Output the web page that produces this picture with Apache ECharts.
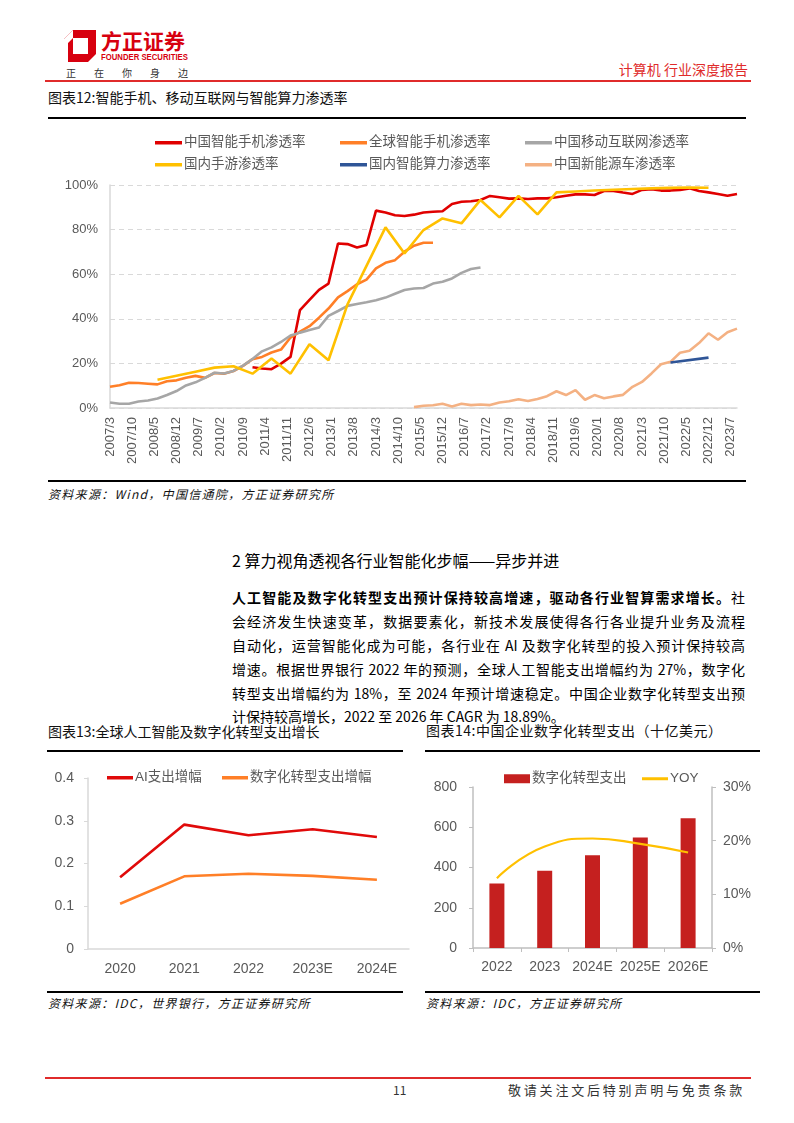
<!DOCTYPE html>
<html><head><meta charset="utf-8">
<script src="https://cdn.jsdelivr.net/npm/echarts/dist/echarts.min.js"></script>
<style>
body{margin:0;background:#fff;}
#page{position:relative;width:794px;height:1123px;overflow:hidden;font-family:"Noto Sans CJK SC","Noto Sans",sans-serif;color:#000;background:#fff;}
.a{position:absolute;white-space:nowrap;}
.title{font-size:14px;line-height:20px;color:#111;}
.src{font-size:12px;line-height:16px;font-style:italic;letter-spacing:1.3px;color:#111;}
.pl{position:absolute;left:232px;width:513px;font-size:14px;line-height:20px;text-align:justify;text-align-last:justify;white-space:nowrap;color:#000;}
</style></head>
<body><div id="page">
<!-- header -->
<svg class="a" style="left:64px;top:30px" width="32" height="32" viewBox="0 0 32 32">
  <path d="M9,0 L32,0 L32,24 L24,32 L0,32 L0,9 Z M9,8 L9,24 L24,24 L24,8 Z" fill="#D7000F" fill-rule="evenodd"/>
  <path d="M0,9 L9,0 L9,8 L4,13 L4,32 L0,32 Z" fill="#fff"/>
</svg>
<div class="a" style="left:101px;top:27px;font-size:21px;line-height:26px;font-weight:bold;color:#D7000F;">方正证券</div>
<div class="a" style="left:101px;top:52px;font-size:9px;line-height:10px;font-weight:bold;color:#D7000F;font-family:'Liberation Sans',Arial,sans-serif;transform:scaleX(0.86);transform-origin:left top;">FOUNDER SECURITIES</div>
<div class="a" style="left:66px;top:66px;font-size:10px;line-height:14px;color:#333;letter-spacing:18px;">正在你身边</div>
<div class="a" style="right:46px;top:59px;font-size:14px;line-height:20px;color:#E02B2B;">计算机 行业深度报告</div>
<div class="a" style="left:45px;top:80px;width:706px;height:1.5px;background:#E02B2B;"></div>
<div class="a title" style="left:48px;top:87px;">图表12:智能手机、移动互联网与智能算力渗透率</div>
<div class="a" style="left:48px;top:117px;width:698px;height:2px;background:#000;"></div>
<div id="c12" class="a" style="left:0;top:125px;width:794px;height:355px;"></div>
<div class="a" style="left:48px;top:480px;width:698px;height:2px;background:#000;"></div>
<div class="a src" style="left:48px;top:486px;">资料来源：Wind，中国信通院，方正证券研究所</div>

<!-- text -->
<div class="a" style="left:232px;top:549px;font-size:16px;line-height:22px;">2 算力视角透视各行业智能化步幅——异步并进</div>
<div class="pl" style="top:587px;"><b>人工智能及数字化转型支出预计保持较高增速，驱动各行业智算需求增长。</b>社</div>
<div class="pl" style="top:611px;">会经济发生快速变革，数据要素化，新技术发展使得各行各业提升业务及流程</div>
<div class="pl" style="top:635px;">自动化，运营智能化成为可能，各行业在 AI 及数字化转型的投入预计保持较高</div>
<div class="pl" style="top:659px;">增速。根据世界银行 2022 年的预测，全球人工智能支出增幅约为 27%，数字化</div>
<div class="pl" style="top:683px;">转型支出增幅约为 18%，至 2024 年预计增速稳定。中国企业数字化转型支出预</div>
<div class="pl" style="top:706px;text-align-last:left;width:auto;">计保持较高增长，2022 至 2026 年 CAGR 为 18.89%。</div>

<!-- chart 13 -->
<div class="a title" style="left:48px;top:721px;">图表13:全球人工智能及数字化转型支出增长</div>
<div class="a" style="left:47px;top:750px;width:356px;height:2px;background:#000;"></div>
<div id="c13" class="a" style="left:40px;top:755px;width:370px;height:230px;"></div>
<div class="a" style="left:47px;top:991px;width:356px;height:2px;background:#000;"></div>
<div class="a src" style="left:48px;top:995px;">资料来源：IDC，世界银行，方正证券研究所</div>

<!-- chart 14 -->
<div class="a title" style="left:426px;top:720px;letter-spacing:0.5px;">图表14:中国企业数字化转型支出（十亿美元）</div>
<div class="a" style="left:425px;top:750px;width:335px;height:2px;background:#000;"></div>
<div id="c14" class="a" style="left:410px;top:755px;width:360px;height:230px;"></div>
<div class="a" style="left:425px;top:991px;width:335px;height:2px;background:#000;"></div>
<div class="a src" style="left:426px;top:995px;">资料来源：IDC，方正证券研究所</div>

<!-- footer -->
<div class="a" style="left:45px;top:1077px;width:706px;height:1.5px;background:#E02B2B;"></div>
<div class="a" style="left:393px;top:1081px;font-size:12px;line-height:18px;color:#333;">11</div>
<div class="a" style="left:508px;top:1081px;font-size:13px;line-height:18px;color:#333;letter-spacing:2.8px;">敬请关注文后特别声明与免责条款</div>
</div>
<script>
// ---------- Chart 12 data ----------
const months = [];
(function(){ let y = 2007, m = 3; while (true) { months.push(y + '/' + m); if (y === 2023 && m === 9) break; m++; if (m > 12) { m = 1; y++; } } })();

const cnSmartphone = [['2010/12',18.3],['2011/3',17.7],['2011/6',17.4],['2011/9',19.9],['2011/12',22.9],['2012/3',43.9],['2012/6',48.5],['2012/9',53.0],['2012/12',55.8],['2013/3',73.8],['2013/6',73.5],['2013/9',72.0],['2013/12',73.1],['2014/3',88.5],['2014/6',87.7],['2014/9',86.4],['2014/12',86.1],['2015/3',86.7],['2015/6',87.7],['2015/9',88.0],['2015/12',88.2],['2016/3',91.5],['2016/6',92.5],['2016/9',92.7],['2016/12',93.3],['2017/3',95.1],['2017/6',94.5],['2017/9',93.9],['2017/12',94.0],['2018/3',93.7],['2018/6',94.0],['2018/9',94.0],['2018/12',94.5],['2019/3',95.2],['2019/6',95.8],['2019/9',95.8],['2019/12',95.5],['2020/3',97.3],['2020/6',97.3],['2020/9',96.6],['2020/12',96.0],['2021/3',97.8],['2021/6',98.1],['2021/9',97.5],['2021/12',97.5],['2022/3',97.8],['2022/6',98.5],['2022/9',97.3],['2022/12',96.7],['2023/3',96.0],['2023/6',95.2],['2023/9',96.0]];
const globalSmartphone = [['2007/3',9.5],['2007/6',10.2],['2007/9',11.3],['2007/12',11.2],['2008/3',10.9],['2008/6',10.6],['2008/9',12.0],['2008/12',12.4],['2009/3',13.6],['2009/6',14.4],['2009/9',13.5],['2009/12',15.7],['2010/3',15.4],['2010/6',16.6],['2010/9',18.9],['2010/12',21.9],['2011/3',22.9],['2011/6',24.9],['2011/9',26.2],['2011/12',31.6],['2012/3',34.2],['2012/6',36.7],['2012/9',40.5],['2012/12',44.6],['2013/3',49.6],['2013/6',52.4],['2013/9',55.5],['2013/12',57.6],['2014/3',62.6],['2014/6',65.1],['2014/9',66.3],['2014/12',70.1],['2015/3',72.8],['2015/6',74.1],['2015/9',74.1]];
const cnMobileNet = [['2007/3',2.5],['2007/6',1.9],['2007/9',1.9],['2007/12',2.9],['2008/3',3.4],['2008/6',4.3],['2008/9',5.8],['2008/12',7.6],['2009/3',10.1],['2009/6',11.5],['2009/9',13.5],['2009/12',15.8],['2010/3',15.5],['2010/6',16.6],['2010/9',19.0],['2010/12',22.0],['2011/3',25.4],['2011/6',27.2],['2011/9',29.6],['2011/12',32.5],['2012/3',33.8],['2012/6',35.0],['2012/9',36.1],['2012/12',41.3],['2013/3',43.5],['2013/6',45.8],['2013/9',46.6],['2013/12',47.4],['2014/3',48.3],['2014/6',49.5],['2014/9',51.2],['2014/12',52.9],['2015/3',53.6],['2015/6',53.8],['2015/9',55.8],['2015/12',56.6],['2016/3',58.1],['2016/6',60.6],['2016/9',62.3],['2016/12',63.0]];
const cnMobileGame = [['2008/6',12.7],['2008/12',14.5],['2009/6',16.3],['2009/12',18.1],['2010/6',18.7],['2010/12',15.4],['2011/6',22.2],['2011/12',15.4],['2012/6',28.6],['2012/12',21.4],['2013/6',46.5],['2013/12',63.7],['2014/6',81.0],['2014/12',69.3],['2015/6',79.8],['2015/12',85.0],['2016/6',82.8],['2016/12',93.3],['2017/6',85.5],['2017/12',95.1],['2018/6',86.8],['2018/12',96.7],['2019/6',97.1],['2019/12',97.5],['2020/6',97.9],['2020/12',98.2],['2021/6',98.5],['2021/12',98.7],['2022/6',98.9],['2022/12',98.8]];
const cnAICompute = [['2021/12',20.4],['2022/12',22.6]];
const cnNEV = [['2015/3',0.4],['2015/6',1.0],['2015/9',1.2],['2015/12',1.9],['2016/3',0.7],['2016/6',1.9],['2016/9',1.3],['2016/12',1.6],['2017/3',1.3],['2017/6',2.5],['2017/9',3.0],['2017/12',3.9],['2018/3',3.1],['2018/6',4.0],['2018/9',5.3],['2018/12',7.5],['2019/3',5.8],['2019/6',8.0],['2019/9',3.7],['2019/12',5.8],['2020/3',4.4],['2020/6',5.2],['2020/9',5.9],['2020/12',9.5],['2021/3',11.7],['2021/6',15.5],['2021/9',19.6],['2021/12',20.7],['2022/3',24.8],['2022/6',25.7],['2022/9',29.1],['2022/12',33.5],['2023/3',30.6],['2023/6',34.0],['2023/9',35.6]];
const yTicks12 = [0, 20, 40, 60, 80, 100];

const names12 = ['中国智能手机渗透率','全球智能手机渗透率','中国移动互联网渗透率','国内手游渗透率','国内智能算力渗透率','中国新能源车渗透率'];
const colors12 = ['#E00000','#FF7F27','#A6A6A6','#FFC000','#2F5597','#F4B183'];
const data12 = [cnSmartphone, globalSmartphone, cnMobileNet, cnMobileGame, cnAICompute, cnNEV];

// ---------- Chart 13 data ----------
const years13 = ['2020','2021','2022','2023E','2024E'];
const aiSpendGrowth = [0.168, 0.291, 0.266, 0.280, 0.262];
const dxSpendGrowth = [0.106, 0.170, 0.176, 0.171, 0.162];

// ---------- Chart 14 data ----------
const years14 = ['2022','2023','2024E','2025E','2026E'];
const dxSpendChina = [321, 384, 461, 549, 645];
const yoyChina = [13.0, 18.9, 20.4, 19.4, 17.8];

const FONT = "'Liberation Sans','Noto Sans CJK SC',sans-serif";
const LBL = '#595959';
const AX = '#D9D9D9';

// Chart 12
(function(){
  const ch = echarts.init(document.getElementById('c12'), null, {renderer:'canvas'});
  const legendPos = [[150,6],[335,6],[520,6],[150,28],[335,28],[520,28]];
  const legends = names12.map((n,i)=>({
    data:[n], left:legendPos[i][0], top:legendPos[i][1], icon:'rect', itemWidth:27, itemHeight:3.5,
    textStyle:{fontSize:13.5,color:LBL,fontFamily:FONT,padding:[0,0,0,-3]}, selectedMode:false
  }));
  const order = [0,1,2,3,5,4];
  ch.setOption({
    animation:false,
    legend:legends,
    grid:{left:110,right:57,top:60,bottom:72},
    xAxis:{type:'category',data:months,boundaryGap:false,
      axisLine:{lineStyle:{color:AX,width:1.5}},axisTick:{show:false},
      axisLabel:{interval:6,rotate:90,fontSize:13,color:LBL,fontFamily:FONT,margin:9}},
    yAxis:{type:'value',min:yTicks12[0],max:yTicks12[yTicks12.length-1],interval:20,
      axisLine:{show:true,lineStyle:{color:AX,width:1.5}},axisTick:{show:false},
      axisLabel:{formatter:'{value}%',fontSize:13,color:LBL,fontFamily:FONT,margin:12},
      splitLine:{lineStyle:{color:'#D9D9D9',type:[5,4],width:1.2}}},
    series:order.map(i=>({name:names12[i],type:'line',data:data12[i],showSymbol:false,symbol:'none',
      lineStyle:{width:2.6,color:colors12[i]},itemStyle:{color:colors12[i]}}))
  });
})();

// Chart 13
(function(){
  const ch = echarts.init(document.getElementById('c13'));
  ch.setOption({
    animation:false,
    legend:[
      {data:['AI支出增幅'],left:62,top:11,icon:'rect',itemWidth:26,itemHeight:3.5,selectedMode:false,textStyle:{fontSize:13.5,color:LBL,fontFamily:FONT,padding:[0,0,0,-3]}},
      {data:['数字化转型支出增幅'],left:177,top:11,icon:'rect',itemWidth:26,itemHeight:3.5,selectedMode:false,textStyle:{fontSize:13.5,color:LBL,fontFamily:FONT,padding:[0,0,0,-3]}}
    ],
    grid:{left:48,right:1,top:23,bottom:36},
    xAxis:{type:'category',data:years13,boundaryGap:true,
      axisLine:{lineStyle:{color:AX,width:1.5}},axisTick:{show:false},
      axisLabel:{interval:0,fontSize:14,color:LBL,fontFamily:FONT,margin:13}},
    yAxis:{type:'value',min:0,max:0.4,interval:0.1,
      axisLine:{show:true,lineStyle:{color:AX,width:1.5}},axisTick:{show:true,length:4,lineStyle:{color:AX}},
      splitLine:{show:false},
      axisLabel:{fontSize:14,color:LBL,fontFamily:FONT,margin:14,formatter:v=>String(Math.round(v*10)/10)}},
    series:[
      {name:'AI支出增幅',type:'line',data:aiSpendGrowth,showSymbol:false,symbol:'none',lineStyle:{width:2.6,color:'#E00A0A'},itemStyle:{color:'#E00A0A'}},
      {name:'数字化转型支出增幅',type:'line',data:dxSpendGrowth,showSymbol:false,symbol:'none',lineStyle:{width:2.6,color:'#FF7F27'},itemStyle:{color:'#FF7F27'}}
    ]
  });
})();

// Chart 14
(function(){
  const ch = echarts.init(document.getElementById('c14'));
  ch.setOption({
    animation:false,
    legend:[
      {data:['数字化转型支出'],left:89,top:12,icon:'rect',itemWidth:26,itemHeight:9,selectedMode:false,textStyle:{fontSize:13.5,color:LBL,fontFamily:FONT,padding:[0,0,0,-3]}},
      {data:['YOY'],left:227,top:12,icon:'rect',itemWidth:26,itemHeight:3,selectedMode:false,textStyle:{fontSize:13.5,color:LBL,fontFamily:FONT,padding:[0,0,0,-3]}}
    ],
    grid:{left:63,right:58,top:32,bottom:37},
    xAxis:{type:'category',data:years14,boundaryGap:true,
      axisLine:{lineStyle:{color:'#BFBFBF',width:1.5}},axisTick:{show:true,length:4,lineStyle:{color:'#BFBFBF'}},
      axisLabel:{interval:0,fontSize:14,color:LBL,fontFamily:FONT,margin:12}},
    yAxis:[
      {type:'value',min:0,max:800,interval:200,position:'left',
        axisLine:{show:true,lineStyle:{color:'#BFBFBF',width:1.5}},axisTick:{show:true,length:4,lineStyle:{color:'#BFBFBF'}},
        splitLine:{show:false},axisLabel:{fontSize:14,color:LBL,fontFamily:FONT,margin:16}},
      {type:'value',min:0,max:30,interval:10,position:'right',
        axisLine:{show:true,lineStyle:{color:'#BFBFBF',width:1.5}},axisTick:{show:true,length:4,lineStyle:{color:'#BFBFBF'}},
        splitLine:{show:false},axisLabel:{fontSize:14,color:LBL,fontFamily:FONT,margin:11,formatter:'{value}%'}}
    ],
    series:[
      {name:'数字化转型支出',type:'bar',data:dxSpendChina,barWidth:15,itemStyle:{color:'#C5201F'}},
      {name:'YOY',type:'line',yAxisIndex:1,data:yoyChina,smooth:true,showSymbol:false,symbol:'none',lineStyle:{width:2.2,color:'#FFC000'},itemStyle:{color:'#FFC000'}}
    ]
  });
})();
</script>
</body></html>
